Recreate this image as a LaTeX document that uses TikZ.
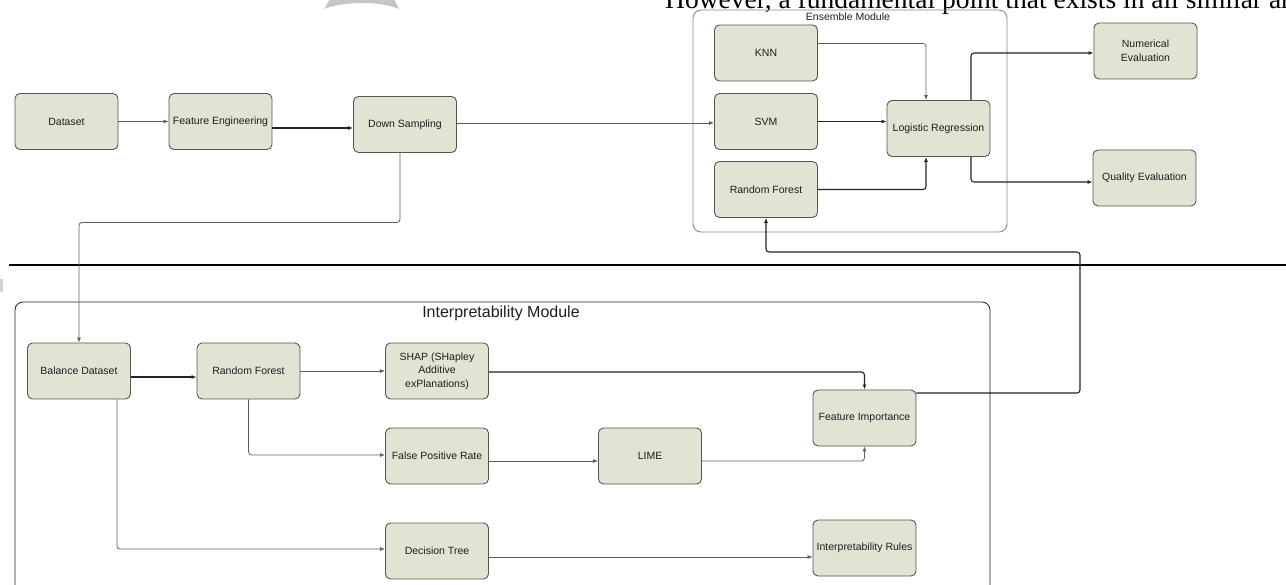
\documentclass[tikz,border=0pt]{standalone}
\usepackage{fontspec}
\setmainfont{Liberation Sans}
\newfontfamily\serifface{Liberation Serif}
\usetikzlibrary{arrows.meta,calc}
\definecolor{boxfill}{RGB}{227,227,211}
\definecolor{boxline}{RGB}{85,85,85}
\definecolor{lnlight}{RGB}{95,95,95}
\definecolor{lndark}{RGB}{35,35,35}
\definecolor{ensline}{RGB}{135,135,135}
\definecolor{txt}{RGB}{30,30,30}
\begin{document}
\begin{tikzpicture}[x=1pt,y=-1pt,
  box/.style={draw=boxline,fill=boxfill,rounded corners=5pt,line width=0.9pt,
    minimum width=103pt,minimum height=56pt,inner sep=2pt,align=center,
    font=\fontsize{10.5}{13.5}\selectfont,text=txt},
  conn/.style={draw=lnlight,line width=0.8pt,-{Latex[length=5pt,width=4pt]},rounded corners=3pt},
  connd/.style={conn,draw=lndark,line width=1.1pt},
  modframe/.style={rounded corners=8pt,line width=0.9pt},
  modlabel/.style={inner sep=0pt,text=txt}]
\useasboundingbox (0,0) rectangle (1286,585);

% page artefacts
\node[anchor=base west,inner sep=0pt,font=\serifface\fontsize{27.5}{30}\selectfont] (toptext) at (665,9)
  {However, a fundamental point that exists in all similar are};
\fill[gray!45] (324,9) .. controls (345,1) and (380,1) .. (399,9) -- (394,-1) -- (330,-1) -- cycle;
\fill[gray!35] (0,279) rectangle (3,292);

% module frames
\draw[modframe,draw=ensline] (693,10) rectangle (1007,232);
\node[modlabel,font=\fontsize{10.5}{12}\selectfont] (enslabel) at (848,17) {Ensemble Module};
\draw[modframe,draw=lndark,line width=0.8pt] (15,302) rectangle (990,640);
\node[modlabel,font=\fontsize{16}{18}\selectfont] (intlabel) at (501,313) {Interpretability Module};

% separator
\draw[line width=2.6pt,black] (9,265) -- (1290,265);

% upper nodes
\node[box] (ds)  at (66.5,121.5) {Dataset};
\node[box] (fe)  at (220.5,121.5) {Feature Engineering};
\node[box] (dsm) at (405,124.5) {Down Sampling};
\node[box] (knn) at (766,53) {KNN};
\node[box] (svm) at (766,121.5) {SVM};
\node[box] (rfe) at (766,189.5) {Random Forest};
\node[box] (lr)  at (938.5,128.5) {Logistic Regression};
\node[box] (ne)  at (1145.5,51) {Numerical\\Evaluation};
\node[box] (qe)  at (1144.5,178) {Quality Evaluation};

% lower nodes
\node[box] (bd)   at (79,371) {Balance Dataset};
\node[box] (rfi)  at (248.5,371) {Random Forest};
\node[box] (shap) at (437,371) {SHAP (SHapley\\Additive\\exPlanations)};
\node[box] (fpr)  at (437,456) {False Positive Rate};
\node[box] (lime) at (650,456) {LIME};
\node[box] (fi)   at (864.5,418) {Feature Importance};
\node[box] (dt)   at (437,551) {Decision Tree};
\node[box] (ir)   at (864.5,548) {Interpretability Rules};

\coordinate (fbcorner) at (1080,252);

% connectors, upper part
\draw[conn] (ds.east) -- (fe.west);
\draw[connd] ($(fe.east)+(0,6.5)$) -- ($(dsm.west)+(0,3.5)$);
\draw[conn] ($(dsm.east)+(0,-1.5)$) -- ($(svm.west)+(0,1.5)$);
\draw[conn] ($(knn.east)+(0,-9.5)$) -| ($(lr.north)+(-12.5,0)$);
\draw[connd] (svm.east) -- (svm.east -| lr.west);
\draw[connd] (rfe.east) -| ($(lr.south)+(-12.5,0)$);
\draw[connd] ($(lr.north)+(32.5,0)$) |- ($(ne.west)+(0,2)$);
\draw[connd] ($(lr.south)+(32.5,0)$) |- ($(qe.west)+(0,4)$);

% crossing connectors
\draw[conn] ($(dsm.south)+(-5,0)$) -- ++(0,69.5) -| (bd.north);
\draw[connd] ($(fi.east)+(0,-25)$) -| (fbcorner) -| (rfe.south);

% connectors, lower part
\draw[connd] ($(bd.east)+(0,6)$) -- ($(rfi.west)+(0,6)$);
\draw[conn] (rfi.east) -- (shap.west);
\draw[conn] (rfi.south) |- ($(fpr.west)+(0,-1)$);
\draw[connd] ($(shap.east)+(0,1)$) -| (fi.north);
\draw[conn] ($(fpr.east)+(0,5)$) -- ($(lime.west)+(0,5)$);
\draw[conn] ($(lime.east)+(0,5)$) -| (fi.south);
\draw[conn] ($(bd.south)+(38,0)$) |- ($(dt.west)+(0,-2)$);
\draw[conn] ($(dt.east)+(0,6)$) -- ($(ir.west)+(0,9)$);
\end{tikzpicture}
\end{document}
